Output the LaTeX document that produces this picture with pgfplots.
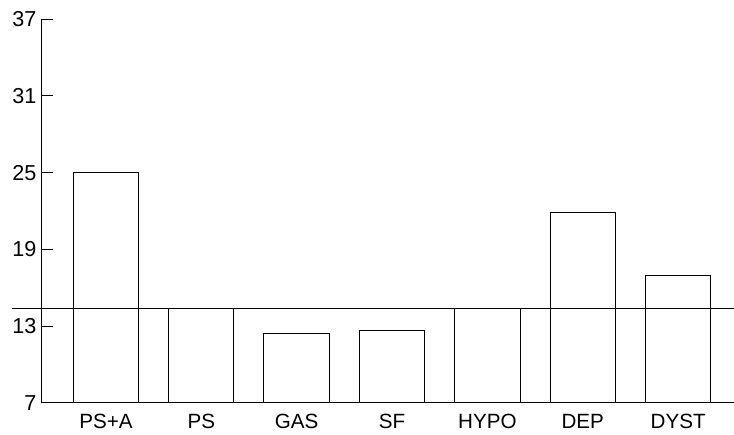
\documentclass[border=0pt]{standalone}
\usepackage{pgfplots}
\pgfplotsset{compat=1.18}
\usepackage{fontspec}
\setmainfont{Liberation Sans}
\begin{document}
\begin{tikzpicture}
\pgfplotsset{
  common/.style={
    scale only axis, width=688pt, height=382pt,
    xmin=-0.67, xmax=6.58, ymin=7, ymax=37,
  }
}
\begin{axis}[
  common,
  axis x line*=bottom, axis y line*=left,
  axis line style={line width=1pt, -},
  ytick={7,13,19,25,31,37},
  ytick pos=left, tick align=inside, major tick length=11pt,
  ytick style={line width=1pt, black},
  xtick={0,...,6},
  xticklabels={PS+A,PS,GAS,SF,HYPO,\raisebox{-4pt}{DEP},\raisebox{-3pt}{DYST}},
  xtick style={draw=none},
  yticklabel style={font=\fontsize{21.5}{23}\selectfont, xshift=-2pt},
  xticklabel style={font=\fontsize{20.5}{22}\selectfont, yshift=-8pt},
  /pgf/number format/assume math mode=true,
]
\addplot[ybar, bar width=65pt, bar shift=0pt, fill=white, draw=black, line width=1pt]
  coordinates {(0,25.0) (1,14.4) (2,12.45) (3,12.65) (4,14.4) (5,21.9) (6,17.0)};
\end{axis}
\begin{axis}[common, hide axis, clip=false]
\addplot[black, line width=1pt, mark=none] coordinates {(-0.98,14.4) (6.58,14.4)};
\end{axis}
\path ([xshift=-9pt,yshift=8pt]current bounding box.north west)
      ([yshift=-2pt]current bounding box.south east);
\end{tikzpicture}
\end{document}
